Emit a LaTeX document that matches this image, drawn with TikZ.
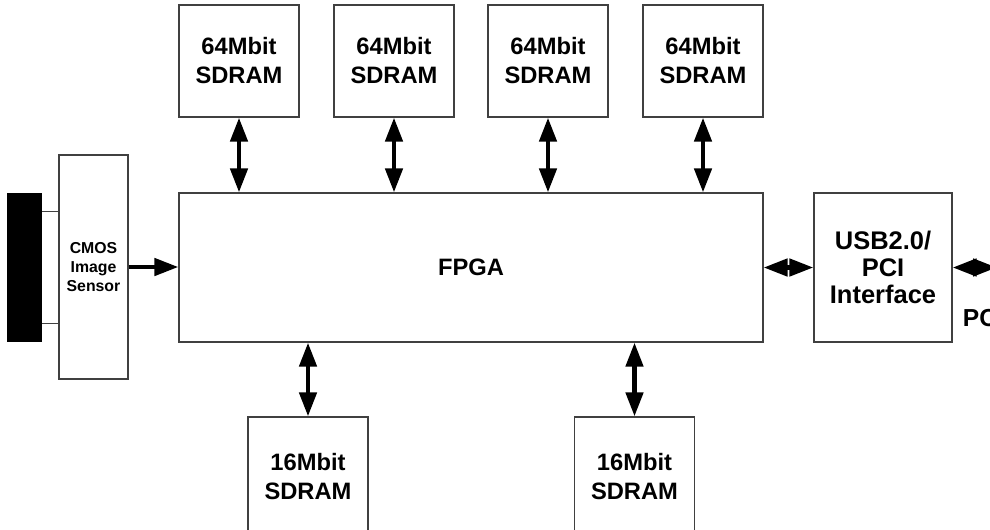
\documentclass[tikz,border=0pt]{standalone}
\usepackage{fontspec}
\setmainfont{Liberation Sans}
\usetikzlibrary{arrows.meta}

\begin{document}
\begin{tikzpicture}[x=0.02cm,y=-0.02cm,
    box/.style={draw=black!75,line width=0.7pt,align=center,font=\bfseries\fontsize{13.5}{16.5}\selectfont,inner sep=0pt},
    mem/.style={box,minimum width=2.4cm,minimum height=2.24cm},
    bus/.style={line width=2.6pt,{Triangle[length=0.48cm,width=0.34cm]}-{Triangle[length=0.48cm,width=0.34cm]}},
    feed/.style={line width=2.6pt,-{Triangle[length=0.48cm,width=0.34cm]}}]
      \useasboundingbox (0,0) rectangle (990,529);
      \node[mem] (memA) at (239,61) {64Mbit\\SDRAM};
      \node[mem] (memB) at (394,61) {64Mbit\\SDRAM};
      \node[mem] (memC) at (548,61) {64Mbit\\SDRAM};
      \node[mem] (memD) at (703,61) {64Mbit\\SDRAM};
      \node[box,minimum width=11.68cm,minimum height=2.98cm] (fpga) at (471,267.5) {FPGA};
      \node[box,minimum width=1.38cm,minimum height=4.48cm,font=\bfseries\fontsize{9}{11}\selectfont] (cmos) at (93.5,267) {CMOS\\Image\\Sensor};
      \node[fill=black,minimum width=0.7cm,minimum height=2.98cm,inner sep=0pt] (lens) at (24.5,267.5) {};
      \node[box,minimum width=2.76cm,minimum height=2.98cm,font=\bfseries\fontsize{14.5}{15.4}\selectfont] (usb) at (883,267.5) {USB2.0/\\PCI\\Interface};
      \node[mem,minimum height=2.4cm] (sdA) at (308,477) {16Mbit\\SDRAM};
      \node[mem,minimum height=2.4cm] (sdB) at (634.5,477) {16Mbit\\SDRAM};
      \node[font=\bfseries\fontsize{14}{16}\selectfont] (pc) at (980,318) {PC};
      \coordinate (pcend) at (997,267.5);
      %
      \draw[black!75,line width=0.7pt] ([yshift=-0.38cm]lens.north east) -- ([yshift=-0.38cm]lens.north east -| cmos.west);
      \draw[black!75,line width=0.7pt] ([yshift=0.38cm]lens.south east) -- ([yshift=0.38cm]lens.south east -| cmos.west);
      %
      \foreach \m in {memA,memB,memC,memD}
        \draw[bus] (\m.south) -- (\m.south |- fpga.north);
      \foreach \m in {sdA,sdB}
        \draw[bus] (\m.north) -- (\m.north |- fpga.south);
      \draw[feed] (cmos.east) -- (fpga.west |- cmos.east);
      \draw[bus] (fpga.east) -- (usb.west);
      \draw[bus] (usb.east) -- (pcend);
    \end{tikzpicture}
\end{document}
